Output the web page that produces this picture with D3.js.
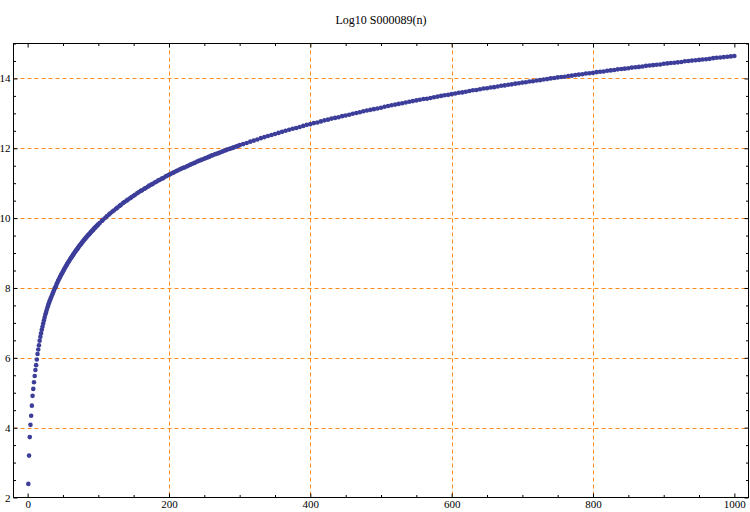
<!DOCTYPE html>
<html>
<head>
<meta charset="utf-8">
<script src="https://cdn.jsdelivr.net/npm/d3@7"></script>
<style>
  html, body { margin: 0; padding: 0; background: #fff; }
  svg { display: block; }
  text { font-family: "Liberation Serif", "DejaVu Serif", serif; }
</style>
</head>
<body>
<svg id="chart" width="750" height="512"></svg>
<script>
// ---- Data ----
const title = "Log10 S000089(n)";

// every n from 1 to 100
const nDense = d3.range(1, 101);
const valuesDense = [
  2.39, 3.20, 3.73, 4.08, 4.34, 4.63, 4.91, 5.11, 5.30, 5.48,
  5.65, 5.79, 5.95, 6.11, 6.24, 6.36, 6.49, 6.60, 6.70, 6.80,
  6.89, 6.98, 7.07, 7.15, 7.23, 7.30, 7.37, 7.44, 7.50, 7.56,
  7.62, 7.67, 7.72, 7.77, 7.82, 7.87, 7.92, 7.97, 8.01, 8.05,
  8.11, 8.15, 8.20, 8.24, 8.28, 8.32, 8.36, 8.40, 8.43, 8.47,
  8.51, 8.55, 8.58, 8.62, 8.65, 8.69, 8.72, 8.75, 8.78, 8.82,
  8.85, 8.88, 8.91, 8.94, 8.97, 9.00, 9.03, 9.06, 9.09, 9.11,
  9.14, 9.17, 9.20, 9.22, 9.25, 9.27, 9.30, 9.33, 9.35, 9.38,
  9.40, 9.42, 9.45, 9.47, 9.50, 9.52, 9.54, 9.56, 9.59, 9.61,
  9.63, 9.65, 9.67, 9.70, 9.72, 9.74, 9.76, 9.78, 9.80, 9.82
];

// n from 102 to 300, read every 2-3 steps
const nMid = [
  102, 105, 107, 110, 112, 115, 117, 120, 122, 125, 127, 130, 132, 135, 137, 140, 142, 145, 147, 150,
  152, 155, 157, 160, 162, 165, 167, 170, 172, 175, 177, 180, 182, 185, 187, 190, 192, 195, 197, 200,
  202, 205, 207, 210, 212, 215, 217, 220, 222, 225, 227, 230, 232, 235, 237, 240, 242, 245, 247, 250,
  252, 255, 257, 260, 262, 265, 267, 270, 272, 275, 277, 280, 282, 285, 287, 290, 292, 295, 297, 300
];
const valuesMid = [
  9.86, 9.92, 9.96, 10.01, 10.05, 10.10, 10.14, 10.19, 10.22, 10.27, 10.30, 10.35, 10.38, 10.43, 10.46, 10.50, 10.53, 10.57, 10.60, 10.64,
  10.67, 10.71, 10.74, 10.78, 10.80, 10.84, 10.86, 10.90, 10.93, 10.96, 10.98, 11.02, 11.04, 11.08, 11.10, 11.13, 11.15, 11.19, 11.21, 11.24,
  11.26, 11.29, 11.31, 11.34, 11.36, 11.39, 11.41, 11.44, 11.45, 11.48, 11.50, 11.53, 11.55, 11.57, 11.59, 11.62, 11.64, 11.66, 11.68, 11.70,
  11.72, 11.74, 11.76, 11.79, 11.80, 11.83, 11.84, 11.86, 11.88, 11.90, 11.92, 11.94, 11.96, 11.98, 11.99, 12.01, 12.03, 12.05, 12.06, 12.09
];

// n = 305, 310, ..., 1000
const nTail = d3.range(305, 1001, 5);
const valuesTail = [
  12.12, 12.15, 12.19, 12.22, 12.25, 12.29, 12.32, 12.35, 12.38, 12.41,
  12.44, 12.47, 12.50, 12.53, 12.56, 12.58, 12.61, 12.64, 12.67, 12.69,
  12.72, 12.74, 12.77, 12.80, 12.82, 12.85, 12.87, 12.89, 12.92, 12.94,
  12.96, 12.99, 13.01, 13.03, 13.06, 13.08, 13.10, 13.12, 13.14, 13.16,
  13.19, 13.21, 13.23, 13.25, 13.27, 13.29, 13.31, 13.33, 13.35, 13.37,
  13.39, 13.41, 13.42, 13.44, 13.46, 13.48, 13.50, 13.52, 13.53, 13.55,
  13.57, 13.59, 13.60, 13.62, 13.64, 13.66, 13.67, 13.69, 13.71, 13.72,
  13.74, 13.75, 13.77, 13.79, 13.80, 13.82, 13.83, 13.85, 13.86, 13.88,
  13.89, 13.91, 13.92, 13.94, 13.95, 13.97, 13.98, 14.00, 14.01, 14.03,
  14.04, 14.05, 14.07, 14.08, 14.10, 14.11, 14.12, 14.14, 14.15, 14.16,
  14.18, 14.19, 14.20, 14.22, 14.23, 14.24, 14.26, 14.27, 14.28, 14.29,
  14.31, 14.32, 14.33, 14.34, 14.36, 14.37, 14.38, 14.39, 14.40, 14.42,
  14.43, 14.44, 14.45, 14.46, 14.47, 14.49, 14.50, 14.51, 14.52, 14.53,
  14.54, 14.55, 14.56, 14.58, 14.59, 14.60, 14.61, 14.62, 14.63, 14.64
];

const xTicks = [0, 200, 400, 600, 800, 1000];
const yTicks = [2, 4, 6, 8, 10, 12, 14];
const xGrid = [200, 400, 600, 800];
const yGrid = [4, 6, 8, 10, 12, 14];

(function () {
  const toPts = (ns, vs) => ns.map((n, i) => ({ n, v: vs[i] }));
  const points = toPts(nDense, valuesDense)
    .concat(toPts(nMid, valuesMid))
    .concat(toPts(nTail, valuesTail));

  const svg = d3.select("#chart");
  const pL = 13.5, pR = 748.5, pT = 43.5, pB = 497.5;

  const x = d3.scaleLinear().domain([-20, 1020]).range([pL, pR]);
  const y = d3.scaleLinear().domain([2, 15]).range([pB, pT]);

  const gridColor = "#ff8c1a";

  svg.append("g").selectAll("line").data(xGrid).join("line")
    .attr("x1", d => Math.round(x(d)) + 0.5).attr("x2", d => Math.round(x(d)) + 0.5)
    .attr("y1", pT).attr("y2", pB)
    .attr("stroke", gridColor).attr("stroke-width", 1)
    .attr("stroke-dasharray", "4,3");
  svg.append("g").selectAll("line").data(yGrid).join("line")
    .attr("y1", d => Math.round(y(d)) + 0.5).attr("y2", d => Math.round(y(d)) + 0.5)
    .attr("x1", pL).attr("x2", pR)
    .attr("stroke", gridColor).attr("stroke-width", 1)
    .attr("stroke-dasharray", "4,3");

  svg.append("g").selectAll("circle").data(points).join("circle")
    .attr("cx", d => x(d.n))
    .attr("cy", d => y(d.v))
    .attr("r", 2.3)
    .attr("fill", "#3d3d9a");

  svg.append("rect")
    .attr("x", pL).attr("y", pT)
    .attr("width", pR - pL).attr("height", pB - pT)
    .attr("fill", "none").attr("stroke", "#000").attr("stroke-width", 1);

  const xMinor = d3.range(0, 1001, 50).filter(v => v % 200 !== 0);
  const yMinor = d3.range(2, 15.01, 0.5).filter(v => v % 2 !== 0);

  function tickStyle(g) {
    g.select(".domain").remove();
    g.selectAll("line").attr("stroke", "#000");
    g.selectAll("text").attr("fill", "#000").style("font-size", "11px")
      .style("font-family", '"Liberation Serif", "DejaVu Serif", serif');
  }

  svg.append("g").attr("transform", `translate(0,${pB})`)
    .call(d3.axisBottom(x).tickValues(xTicks).tickSize(-4).tickPadding(3).tickFormat(d3.format("d")))
    .call(tickStyle);
  svg.append("g").attr("transform", `translate(0,${pB})`)
    .call(d3.axisBottom(x).tickValues(xMinor).tickSize(-2.5).tickFormat(""))
    .call(tickStyle);
  svg.append("g").attr("transform", `translate(0,${pT})`)
    .call(d3.axisTop(x).tickValues(xTicks).tickSize(-4).tickFormat(""))
    .call(tickStyle);
  svg.append("g").attr("transform", `translate(0,${pT})`)
    .call(d3.axisTop(x).tickValues(xMinor).tickSize(-2.5).tickFormat(""))
    .call(tickStyle);
  svg.append("g").attr("transform", `translate(${pL},0)`)
    .call(d3.axisLeft(y).tickValues(yTicks).tickSize(-4).tickPadding(3).tickFormat(d3.format("d")))
    .call(tickStyle);
  svg.append("g").attr("transform", `translate(${pL},0)`)
    .call(d3.axisLeft(y).tickValues(yMinor).tickSize(-2.5).tickFormat(""))
    .call(tickStyle);
  svg.append("g").attr("transform", `translate(${pR},0)`)
    .call(d3.axisRight(y).tickValues(yTicks).tickSize(-4).tickFormat(""))
    .call(tickStyle);
  svg.append("g").attr("transform", `translate(${pR},0)`)
    .call(d3.axisRight(y).tickValues(yMinor).tickSize(-2.5).tickFormat(""))
    .call(tickStyle);

  svg.append("text")
    .attr("x", (pL + pR) / 2).attr("y", 24)
    .attr("text-anchor", "middle")
    .style("font-size", "12px")
    .attr("fill", "#000")
    .text(title);
})();
</script>
</body>
</html>
